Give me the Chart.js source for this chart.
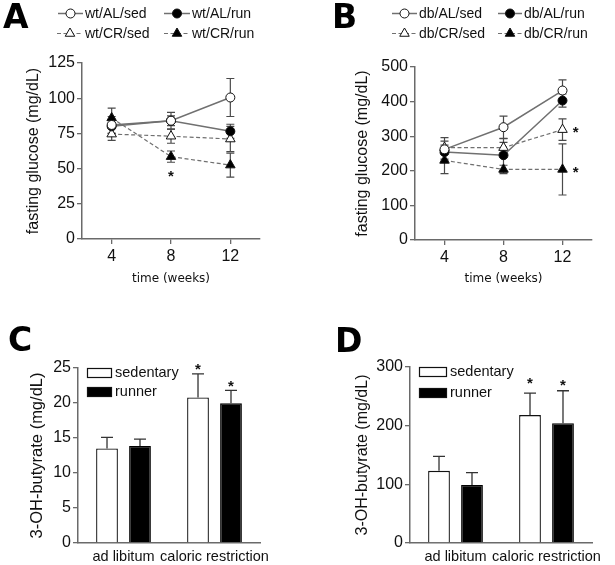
<!DOCTYPE html>
<html><head><meta charset="utf-8">
<script src="https://cdn.jsdelivr.net/npm/chart.js@4"></script>
<style>
html,body{margin:0;padding:0;background:#fff;}
#page{position:relative;width:615px;height:565px;overflow:hidden;background:#fff;}
.panel{position:absolute;}
.panel canvas{display:block;}
.letter{position:absolute;font:bold 33px "DejaVu Sans","Liberation Sans",Arial,sans-serif;line-height:32px;color:#000;}
</style></head><body>
<div id="page">
  <div class="panel" style="left:0;top:0;width:307px;height:290px"><canvas id="cA"></canvas></div>
  <div class="panel" style="left:307px;top:0;width:308px;height:290px"><canvas id="cB"></canvas></div>
  <div class="panel" style="left:0;top:290px;width:307px;height:275px"><canvas id="cC"></canvas></div>
  <div class="panel" style="left:307px;top:290px;width:308px;height:275px"><canvas id="cD"></canvas></div>
  <div class="letter" style="left:3px;top:1px">A</div>
  <div class="letter" style="left:332px;top:1px">B</div>
  <div class="letter" style="left:8px;top:324px">C</div>
  <div class="letter" style="left:335px;top:325px">D</div>
</div>
<script>
// ---------------- DATA ----------------
const weeks = [4, 8, 12];
const weekTickLabels = ['4', '8', '12'];

// Panel A (wild type), fasting glucose mg/dL, mean and SEM
const wtLabels = ['wt/AL/sed', 'wt/AL/run', 'wt/CR/sed', 'wt/CR/run'];
const wtALsed = [81, 84, 100.5];
const wtALsedErr = [6, 6, 13.5];
const wtALrun = [80, 84, 76.5];
const wtALrunErr = [5, 3.5, 5];
const wtCRsed = [74.5, 73, 71];
const wtCRsedErr = [4.5, 5, 9];
const wtCRrun = [86, 58.5, 52.5];
const wtCRrunErr = [7, 4, 8.5];
const wtStars = [{x: 8, y: 46.5}];

// Panel B (db/db), fasting glucose mg/dL
const dbLabels = ['db/AL/sed', 'db/AL/run', 'db/CR/sed', 'db/CR/run'];
const dbALsed = [262, 326, 432];
const dbALsedErr = [34, 32, 31];
const dbALrun = [254, 245, 403];
const dbALrunErr = [20, 48, 19];
const dbCRsed = [267, 267, 319];
const dbCRsedErr = [19, 15, 31];
const dbCRrun = [230, 204, 204];
const dbCRrunErr = [38, 12, 74];
const dbStars = [{x: 12.9, y: 317}, {x: 12.9, y: 202}];

// Panels C and D, 3-OH-butyrate mg/dL
const barCategories = ['ad libitum', 'caloric restriction'];
const barSeries = ['sedentary', 'runner'];
const cSed = [13.5, 20.8];
const cSedErr = [1.6, 3.35];
const cRun = [13.85, 19.95];
const cRunErr = [1.0, 1.85];
const cStars = [{ds: 0, idx: 1, y: 25.2}, {ds: 1, idx: 1, y: 22.8}];

const dSed = [123, 218];
const dSedErr = [24.5, 37.5];
const dRun = [99, 204];
const dRunErr = [21, 55.5];
const dStars = [{ds: 0, idx: 1, y: 277}, {ds: 1, idx: 1, y: 273}];

// ---------------- STYLE ----------------
const FONT = '"Liberation Sans", Arial, Helvetica, sans-serif';
const AXIS = '#6a6a6a';
const LINE = '#707070';
const TXT = '#111';
Chart.defaults.font.family = FONT;
Chart.defaults.color = TXT;
Chart.defaults.animation = false;

function sizeCanvas(id, w, h) {
  const c = document.getElementById(id);
  c.width = w; c.height = h;
  c.style.width = w + 'px'; c.style.height = h + 'px';
  return c;
}

// error bars for line charts (symmetric)
const lineErrPlugin = {
  id: 'lineErr',
  beforeDatasetsDraw(chart) {
    const ctx = chart.ctx, ys = chart.scales.y;
    chart.data.datasets.forEach((ds, i) => {
      if (!ds.errors) return;
      const meta = chart.getDatasetMeta(i);
      ctx.save();
      ctx.strokeStyle = '#4a4a4a';
      ctx.lineWidth = 1.2;
      meta.data.forEach((pt, j) => {
        const v = ds.data[j].y, e = ds.errors[j];
        const yt = ys.getPixelForValue(v + e), yb = ys.getPixelForValue(v - e);
        const x = pt.x;
        ctx.beginPath();
        ctx.moveTo(x, yt); ctx.lineTo(x, yb);
        ctx.moveTo(x - 4, yt); ctx.lineTo(x + 4, yt);
        ctx.moveTo(x - 4, yb); ctx.lineTo(x + 4, yb);
        ctx.stroke();
      });
      ctx.restore();
    });
  }
};

// upward error bars for bar charts
const barErrPlugin = {
  id: 'barErr',
  afterDatasetsDraw(chart) {
    const ctx = chart.ctx, ys = chart.scales.y;
    chart.data.datasets.forEach((ds, i) => {
      if (!ds.errors) return;
      const meta = chart.getDatasetMeta(i);
      ctx.save();
      ctx.strokeStyle = '#333';
      ctx.lineWidth = 1.3;
      meta.data.forEach((bar, j) => {
        const yt = ys.getPixelForValue(ds.data[j] + ds.errors[j]);
        const x = bar.x;
        ctx.beginPath();
        ctx.moveTo(x, bar.y); ctx.lineTo(x, yt);
        ctx.moveTo(x - 6, yt); ctx.lineTo(x + 6, yt);
        ctx.stroke();
      });
      ctx.restore();
    });
  }
};

// significance asterisks
const starsPlugin = {
  id: 'stars',
  afterDatasetsDraw(chart, args, opts) {
    if (!opts.items) return;
    const ctx = chart.ctx, xs = chart.scales.x, ys = chart.scales.y;
    ctx.save();
    ctx.fillStyle = '#111';
    ctx.font = 'bold 15px ' + FONT;
    ctx.textAlign = 'center';
    ctx.textBaseline = 'middle';
    opts.items.forEach(it => {
      let x;
      if (it.ds !== undefined) x = chart.getDatasetMeta(it.ds).data[it.idx].x;
      else x = xs.getPixelForValue(it.x);
      ctx.fillText('*', x, ys.getPixelForValue(it.y) + 3);
    });
    ctx.restore();
  }
};

function drawMarker(ctx, style, x, y, r, fill, stroke) {
  ctx.save();
  ctx.fillStyle = fill; ctx.strokeStyle = stroke; ctx.lineWidth = 1;
  ctx.beginPath();
  if (style === 'triangle') {
    ctx.moveTo(x, y - r);
    ctx.lineTo(x + r * Math.sin(2 * Math.PI / 3), y - r * Math.cos(2 * Math.PI / 3));
    ctx.lineTo(x + r * Math.sin(4 * Math.PI / 3), y - r * Math.cos(4 * Math.PI / 3));
    ctx.closePath();
  } else {
    ctx.arc(x, y, r, 0, Math.PI * 2);
  }
  ctx.fill(); ctx.stroke();
  ctx.restore();
}

// legend for line charts: positions come from options
const lineLegendPlugin = {
  id: 'lineLegend',
  afterDraw(chart, args, opts) {
    if (!opts.slots) return;
    const ctx = chart.ctx;
    chart.data.datasets.forEach((ds, i) => {
      const s = opts.slots[i];
      ctx.save();
      ctx.strokeStyle = ds.borderColor;
      ctx.lineWidth = ds.borderWidth;
      ctx.setLineDash(ds.borderDash || []);
      ctx.beginPath();
      ctx.moveTo(s.x0, s.y); ctx.lineTo(s.x1, s.y);
      ctx.stroke();
      ctx.restore();
      drawMarker(ctx, ds.pointStyle, (s.x0 + s.x1) / 2, s.y, ds.pointRadius, ds.pointBackgroundColor, ds.pointBorderColor);
      ctx.save();
      ctx.fillStyle = TXT;
      ctx.font = '14px ' + FONT;
      ctx.textBaseline = 'middle';
      ctx.fillText(ds.label, s.x1 + 2, s.y + 1);
      ctx.restore();
    });
  }
};

// legend for bar charts
const barLegendPlugin = {
  id: 'barLegend',
  afterDraw(chart, args, opts) {
    if (!opts.slots) return;
    const ctx = chart.ctx;
    chart.data.datasets.forEach((ds, i) => {
      const s = opts.slots[i];
      ctx.save();
      ctx.fillStyle = ds.backgroundColor;
      ctx.strokeStyle = '#111';
      ctx.lineWidth = 1.2;
      ctx.fillRect(s.x, s.y, s.w, s.h);
      ctx.strokeRect(s.x + 0.5, s.y + 0.5, s.w - 1, s.h - 1);
      ctx.fillStyle = TXT;
      ctx.font = '14.5px ' + FONT;
      ctx.textBaseline = 'middle';
      ctx.fillText(ds.label, s.x + s.w + 3, s.y + s.h / 2);
      ctx.restore();
    });
  }
};

Chart.register(lineErrPlugin, barErrPlugin, starsPlugin, lineLegendPlugin, barLegendPlugin);

function lineDataset(label, vals, errs, style, open, dashed) {
  return {
    label,
    data: weeks.map((w, i) => ({x: w, y: vals[i]})),
    errors: errs,
    borderColor: LINE,
    borderWidth: dashed ? 1.2 : 1.5,
    borderDash: dashed ? [4, 2.5] : [],
    pointStyle: style,
    pointRadius: style === 'triangle' ? 5.5 : 4.5,
    pointBorderWidth: 1,
    pointBackgroundColor: open ? '#fff' : '#000',
    pointBorderColor: '#111',
    tension: 0
  };
}

function axisY(min, max, step, title, yW, titleSize) {
  return {
    type: 'linear', min, max,
    ticks: {stepSize: step, font: {size: 16}, color: TXT, padding: 2},
    grid: {display: true, drawOnChartArea: false, drawTicks: true, tickLength: 5, color: AXIS, lineWidth: 1.3},
    border: {display: true, color: AXIS, width: 1.5},
    title: {display: true, text: title, font: {size: titleSize || 16}, color: TXT, padding: {top: 4, bottom: 4}},
    afterFit: s => { s.width = yW; }
  };
}

function lineChart(id, w, h, pad, yW, xH, datasets, yMin, yMax, yStep, stars, slots) {
  sizeCanvas(id, w, h);
  return new Chart(document.getElementById(id), {
    type: 'line',
    data: {datasets},
    options: {
      responsive: false,
      devicePixelRatio: 1,
      layout: {padding: pad},
      plugins: {legend: {display: false}, tooltip: {enabled: false}, stars: {items: stars}, lineLegend: {slots}},
      scales: {
        x: {
          type: 'linear', min: 2, max: 14,
          afterBuildTicks: s => { s.ticks = weeks.map(v => ({value: v})); },
          ticks: {font: {size: 16}, color: TXT, padding: 3, callback: v => weekTickLabels[weeks.indexOf(v)]},
          grid: {display: true, drawOnChartArea: false, drawTicks: true, tickLength: 5, color: AXIS, lineWidth: 1.3},
          border: {display: true, color: AXIS, width: 1.5},
          title: {display: true, text: 'time (weeks)', font: {size: 12, family: '"DejaVu Sans", Verdana, sans-serif'}, color: TXT, padding: {top: 2, bottom: 4}},
          afterFit: s => { s.height = xH; }
        },
        y: axisY(yMin, yMax, yStep, 'fasting glucose (mg/dL)', yW)
      }
    }
  });
}

function barChart(id, w, h, pad, yW, xH, sed, sedErr, run, runErr, yMax, yStep, stars, slots, titleSize) {
  sizeCanvas(id, w, h);
  return new Chart(document.getElementById(id), {
    type: 'bar',
    data: {
      labels: barCategories,
      datasets: [
        {label: barSeries[0], data: sed, errors: sedErr, backgroundColor: '#fff', borderColor: '#111', borderWidth: 1.3,
         categoryPercentage: 0.725, barPercentage: 0.66},
        {label: barSeries[1], data: run, errors: runErr, backgroundColor: '#000', borderColor: '#000', borderWidth: 1.3,
         categoryPercentage: 0.725, barPercentage: 0.66}
      ]
    },
    options: {
      responsive: false,
      devicePixelRatio: 1,
      layout: {padding: pad},
      plugins: {legend: {display: false}, tooltip: {enabled: false}, stars: {items: stars}, barLegend: {slots}},
      scales: {
        x: {
          type: 'category',
          ticks: {font: {size: 14.5}, color: TXT, padding: 5, maxRotation: 0, autoSkip: false},
          grid: {display: true, drawOnChartArea: false, drawTicks: false, color: AXIS},
          border: {display: true, color: AXIS, width: 1.5},
          afterFit: s => { s.height = xH; }
        },
        y: axisY(0, yMax, yStep, '3-OH-butyrate (mg/dL)', yW, titleSize)
      }
    }
  });
}

// Panel A
lineChart('cA', 307, 290, {left: 20, top: 63, right: 47, bottom: 0}, 62, 51, [
  lineDataset(wtLabels[0], wtALsed, wtALsedErr, 'circle', true, false),
  lineDataset(wtLabels[1], wtALrun, wtALrunErr, 'circle', false, false),
  lineDataset(wtLabels[2], wtCRsed, wtCRsedErr, 'triangle', true, true),
  lineDataset(wtLabels[3], wtCRrun, wtCRrunErr, 'triangle', false, true)
], 0, 125, 25, wtStars, [
  {x0: 58, x1: 83, y: 13.5}, {x0: 164, x1: 190, y: 13.5},
  {x0: 57, x1: 83, y: 33.5}, {x0: 164, x1: 190, y: 33.5}
]);

// Panel B
lineChart('cB', 308, 290, {left: 42, top: 67, right: 23, bottom: 0}, 66, 50, [
  lineDataset(dbLabels[0], dbALsed, dbALsedErr, 'circle', true, false),
  lineDataset(dbLabels[1], dbALrun, dbALrunErr, 'circle', false, false),
  lineDataset(dbLabels[2], dbCRsed, dbCRsedErr, 'triangle', true, true),
  lineDataset(dbLabels[3], dbCRrun, dbCRrunErr, 'triangle', false, true)
], 0, 500, 100, dbStars, [
  {x0: 85, x1: 110, y: 13.5}, {x0: 191, x1: 215, y: 13.5},
  {x0: 85, x1: 110, y: 33.5}, {x0: 191, x1: 215, y: 33.5}
]);

// Panel C
barChart('cC', 307, 275, {left: 24, top: 78, right: 47, bottom: 0}, 54, 22,
  cSed, cSedErr, cRun, cRunErr, 25, 5, cStars, [
  {x: 87, y: 78, w: 25, h: 10}, {x: 87, y: 97, w: 25, h: 10}
], 16.5);

// Panel D
barChart('cD', 308, 275, {left: 42, top: 77, right: 23, bottom: 0}, 61, 22,
  dSed, dSedErr, dRun, dRunErr, 300, 100, dStars, [
  {x: 112, y: 77, w: 28, h: 10}, {x: 112, y: 98, w: 28, h: 10}
], 16);
</script>
</body></html>
